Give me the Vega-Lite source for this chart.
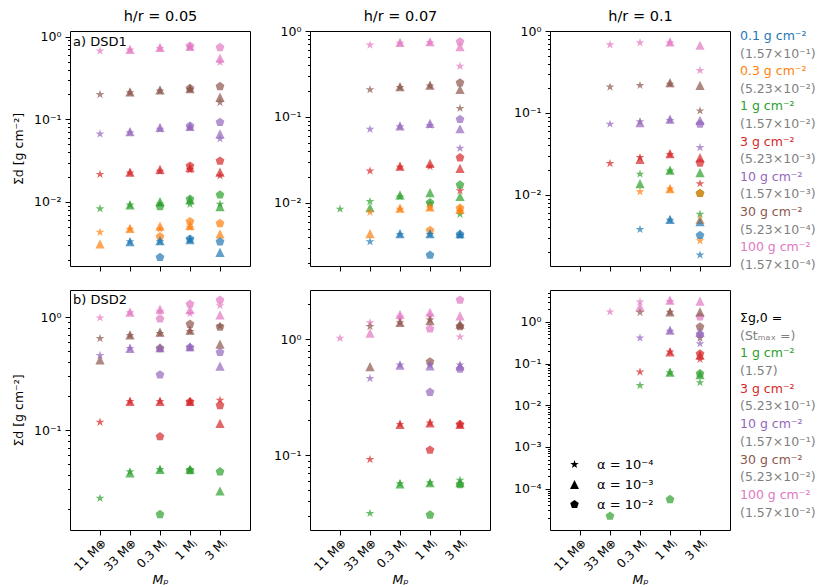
{
  "$schema": "https://vega.github.io/schema/vega-lite/v6.json",
  "padding": {"left": 11, "top": 7, "right": 0, "bottom": 0},
  "config": {
    "font": "DejaVu Sans",
    "view": {"stroke": "black", "strokeWidth": 1},
    "axis": {"grid": false, "domain": false, "tickColor": "black", "labelColor": "black", "titleColor": "black", "labelFontSize": 12.5, "titleFontSize": 12.5, "titleFontWeight": "normal", "labelFont": "DejaVu Sans", "titleFont": "DejaVu Sans"},
    "title": {"fontWeight": "normal", "font": "DejaVu Sans", "color": "black"},
    "legend": {"labelFont": "DejaVu Sans"}
  },
  "datasets": {
    "pts": [
      {"d":"DSD1","h":"0.05","m":"11Me","s":"100","a":"1e-4","v":0.67},
      {"d":"DSD1","h":"0.05","m":"33Me","s":"100","a":"1e-4","v":0.69},
      {"d":"DSD1","h":"0.05","m":"33Me","s":"100","a":"1e-3","v":0.70},
      {"d":"DSD1","h":"0.05","m":"0.3Mj","s":"100","a":"1e-4","v":0.72},
      {"d":"DSD1","h":"0.05","m":"0.3Mj","s":"100","a":"1e-3","v":0.74},
      {"d":"DSD1","h":"0.05","m":"1Mj","s":"100","a":"1e-2","v":0.77},
      {"d":"DSD1","h":"0.05","m":"1Mj","s":"100","a":"1e-3","v":0.76},
      {"d":"DSD1","h":"0.05","m":"1Mj","s":"100","a":"1e-4","v":0.75},
      {"d":"DSD1","h":"0.05","m":"3Mj","s":"100","a":"1e-2","v":0.74},
      {"d":"DSD1","h":"0.05","m":"3Mj","s":"100","a":"1e-3","v":0.55},
      {"d":"DSD1","h":"0.05","m":"3Mj","s":"100","a":"1e-4","v":0.49},
      {"d":"DSD1","h":"0.05","m":"11Me","s":"30","a":"1e-4","v":0.20},
      {"d":"DSD1","h":"0.05","m":"33Me","s":"30","a":"1e-4","v":0.21},
      {"d":"DSD1","h":"0.05","m":"33Me","s":"30","a":"1e-3","v":0.215},
      {"d":"DSD1","h":"0.05","m":"0.3Mj","s":"30","a":"1e-4","v":0.22},
      {"d":"DSD1","h":"0.05","m":"0.3Mj","s":"30","a":"1e-3","v":0.227},
      {"d":"DSD1","h":"0.05","m":"1Mj","s":"30","a":"1e-2","v":0.237},
      {"d":"DSD1","h":"0.05","m":"1Mj","s":"30","a":"1e-3","v":0.235},
      {"d":"DSD1","h":"0.05","m":"1Mj","s":"30","a":"1e-4","v":0.23},
      {"d":"DSD1","h":"0.05","m":"3Mj","s":"30","a":"1e-2","v":0.25},
      {"d":"DSD1","h":"0.05","m":"3Mj","s":"30","a":"1e-3","v":0.185},
      {"d":"DSD1","h":"0.05","m":"3Mj","s":"30","a":"1e-4","v":0.16},
      {"d":"DSD1","h":"0.05","m":"11Me","s":"10","a":"1e-4","v":0.0665},
      {"d":"DSD1","h":"0.05","m":"33Me","s":"10","a":"1e-4","v":0.069},
      {"d":"DSD1","h":"0.05","m":"33Me","s":"10","a":"1e-3","v":0.071},
      {"d":"DSD1","h":"0.05","m":"0.3Mj","s":"10","a":"1e-4","v":0.076},
      {"d":"DSD1","h":"0.05","m":"0.3Mj","s":"10","a":"1e-3","v":0.080},
      {"d":"DSD1","h":"0.05","m":"1Mj","s":"10","a":"1e-2","v":0.083},
      {"d":"DSD1","h":"0.05","m":"1Mj","s":"10","a":"1e-3","v":0.082},
      {"d":"DSD1","h":"0.05","m":"1Mj","s":"10","a":"1e-4","v":0.079},
      {"d":"DSD1","h":"0.05","m":"3Mj","s":"10","a":"1e-2","v":0.092},
      {"d":"DSD1","h":"0.05","m":"3Mj","s":"10","a":"1e-3","v":0.0665},
      {"d":"DSD1","h":"0.05","m":"3Mj","s":"10","a":"1e-4","v":0.058},
      {"d":"DSD1","h":"0.05","m":"11Me","s":"3","a":"1e-4","v":0.0216},
      {"d":"DSD1","h":"0.05","m":"33Me","s":"3","a":"1e-4","v":0.0225},
      {"d":"DSD1","h":"0.05","m":"33Me","s":"3","a":"1e-3","v":0.0229},
      {"d":"DSD1","h":"0.05","m":"0.3Mj","s":"3","a":"1e-4","v":0.0235},
      {"d":"DSD1","h":"0.05","m":"0.3Mj","s":"3","a":"1e-3","v":0.0248},
      {"d":"DSD1","h":"0.05","m":"1Mj","s":"3","a":"1e-2","v":0.0272},
      {"d":"DSD1","h":"0.05","m":"1Mj","s":"3","a":"1e-3","v":0.026},
      {"d":"DSD1","h":"0.05","m":"1Mj","s":"3","a":"1e-4","v":0.0245},
      {"d":"DSD1","h":"0.05","m":"3Mj","s":"3","a":"1e-2","v":0.0313},
      {"d":"DSD1","h":"0.05","m":"3Mj","s":"3","a":"1e-3","v":0.023},
      {"d":"DSD1","h":"0.05","m":"3Mj","s":"3","a":"1e-4","v":0.0207},
      {"d":"DSD1","h":"0.05","m":"11Me","s":"1","a":"1e-4","v":0.0083},
      {"d":"DSD1","h":"0.05","m":"33Me","s":"1","a":"1e-4","v":0.0092},
      {"d":"DSD1","h":"0.05","m":"33Me","s":"1","a":"1e-3","v":0.0092},
      {"d":"DSD1","h":"0.05","m":"0.3Mj","s":"1","a":"1e-4","v":0.0095},
      {"d":"DSD1","h":"0.05","m":"0.3Mj","s":"1","a":"1e-3","v":0.0101},
      {"d":"DSD1","h":"0.05","m":"0.3Mj","s":"1","a":"1e-2","v":0.0088},
      {"d":"DSD1","h":"0.05","m":"1Mj","s":"1","a":"1e-2","v":0.0108},
      {"d":"DSD1","h":"0.05","m":"1Mj","s":"1","a":"1e-3","v":0.0106},
      {"d":"DSD1","h":"0.05","m":"1Mj","s":"1","a":"1e-4","v":0.0094},
      {"d":"DSD1","h":"0.05","m":"3Mj","s":"1","a":"1e-2","v":0.0122},
      {"d":"DSD1","h":"0.05","m":"3Mj","s":"1","a":"1e-4","v":0.0094},
      {"d":"DSD1","h":"0.05","m":"3Mj","s":"1","a":"1e-3","v":0.0088},
      {"d":"DSD1","h":"0.05","m":"11Me","s":"0.3","a":"1e-4","v":0.0043},
      {"d":"DSD1","h":"0.05","m":"11Me","s":"0.3","a":"1e-3","v":0.0031},
      {"d":"DSD1","h":"0.05","m":"33Me","s":"0.3","a":"1e-4","v":0.0047},
      {"d":"DSD1","h":"0.05","m":"33Me","s":"0.3","a":"1e-3","v":0.0048},
      {"d":"DSD1","h":"0.05","m":"0.3Mj","s":"0.3","a":"1e-4","v":0.0047},
      {"d":"DSD1","h":"0.05","m":"0.3Mj","s":"0.3","a":"1e-3","v":0.0051},
      {"d":"DSD1","h":"0.05","m":"0.3Mj","s":"0.3","a":"1e-2","v":0.0038},
      {"d":"DSD1","h":"0.05","m":"1Mj","s":"0.3","a":"1e-2","v":0.0058},
      {"d":"DSD1","h":"0.05","m":"1Mj","s":"0.3","a":"1e-3","v":0.0052},
      {"d":"DSD1","h":"0.05","m":"1Mj","s":"0.3","a":"1e-4","v":0.0049},
      {"d":"DSD1","h":"0.05","m":"3Mj","s":"0.3","a":"1e-2","v":0.0055},
      {"d":"DSD1","h":"0.05","m":"3Mj","s":"0.3","a":"1e-3","v":0.0041},
      {"d":"DSD1","h":"0.05","m":"33Me","s":"0.1","a":"1e-4","v":0.0033},
      {"d":"DSD1","h":"0.05","m":"33Me","s":"0.1","a":"1e-3","v":0.0033},
      {"d":"DSD1","h":"0.05","m":"0.3Mj","s":"0.1","a":"1e-4","v":0.0033},
      {"d":"DSD1","h":"0.05","m":"0.3Mj","s":"0.1","a":"1e-3","v":0.0034},
      {"d":"DSD1","h":"0.05","m":"0.3Mj","s":"0.1","a":"1e-2","v":0.00214},
      {"d":"DSD1","h":"0.05","m":"1Mj","s":"0.1","a":"1e-2","v":0.00356},
      {"d":"DSD1","h":"0.05","m":"1Mj","s":"0.1","a":"1e-3","v":0.0035},
      {"d":"DSD1","h":"0.05","m":"1Mj","s":"0.1","a":"1e-4","v":0.0035},
      {"d":"DSD1","h":"0.05","m":"3Mj","s":"0.1","a":"1e-2","v":0.0033},
      {"d":"DSD1","h":"0.05","m":"3Mj","s":"0.1","a":"1e-3","v":0.00246},

      {"d":"DSD1","h":"0.07","m":"33Me","s":"100","a":"1e-4","v":0.687},
      {"d":"DSD1","h":"0.07","m":"0.3Mj","s":"100","a":"1e-4","v":0.72},
      {"d":"DSD1","h":"0.07","m":"0.3Mj","s":"100","a":"1e-3","v":0.738},
      {"d":"DSD1","h":"0.07","m":"1Mj","s":"100","a":"1e-4","v":0.73},
      {"d":"DSD1","h":"0.07","m":"1Mj","s":"100","a":"1e-3","v":0.75},
      {"d":"DSD1","h":"0.07","m":"3Mj","s":"100","a":"1e-2","v":0.75},
      {"d":"DSD1","h":"0.07","m":"3Mj","s":"100","a":"1e-3","v":0.66},
      {"d":"DSD1","h":"0.07","m":"3Mj","s":"100","a":"1e-4","v":0.39},
      {"d":"DSD1","h":"0.07","m":"33Me","s":"30","a":"1e-4","v":0.208},
      {"d":"DSD1","h":"0.07","m":"0.3Mj","s":"30","a":"1e-4","v":0.22},
      {"d":"DSD1","h":"0.07","m":"0.3Mj","s":"30","a":"1e-3","v":0.225},
      {"d":"DSD1","h":"0.07","m":"1Mj","s":"30","a":"1e-4","v":0.23},
      {"d":"DSD1","h":"0.07","m":"1Mj","s":"30","a":"1e-3","v":0.235},
      {"d":"DSD1","h":"0.07","m":"3Mj","s":"30","a":"1e-2","v":0.25},
      {"d":"DSD1","h":"0.07","m":"3Mj","s":"30","a":"1e-3","v":0.21},
      {"d":"DSD1","h":"0.07","m":"3Mj","s":"30","a":"1e-4","v":0.126},
      {"d":"DSD1","h":"0.07","m":"33Me","s":"10","a":"1e-4","v":0.072},
      {"d":"DSD1","h":"0.07","m":"0.3Mj","s":"10","a":"1e-4","v":0.077},
      {"d":"DSD1","h":"0.07","m":"0.3Mj","s":"10","a":"1e-3","v":0.0786},
      {"d":"DSD1","h":"0.07","m":"1Mj","s":"10","a":"1e-4","v":0.08},
      {"d":"DSD1","h":"0.07","m":"1Mj","s":"10","a":"1e-3","v":0.0844},
      {"d":"DSD1","h":"0.07","m":"3Mj","s":"10","a":"1e-2","v":0.094},
      {"d":"DSD1","h":"0.07","m":"3Mj","s":"10","a":"1e-3","v":0.073},
      {"d":"DSD1","h":"0.07","m":"3Mj","s":"10","a":"1e-4","v":0.0433},
      {"d":"DSD1","h":"0.07","m":"33Me","s":"3","a":"1e-4","v":0.0236},
      {"d":"DSD1","h":"0.07","m":"0.3Mj","s":"3","a":"1e-4","v":0.026},
      {"d":"DSD1","h":"0.07","m":"0.3Mj","s":"3","a":"1e-3","v":0.0269},
      {"d":"DSD1","h":"0.07","m":"1Mj","s":"3","a":"1e-4","v":0.0265},
      {"d":"DSD1","h":"0.07","m":"1Mj","s":"3","a":"1e-3","v":0.0289},
      {"d":"DSD1","h":"0.07","m":"3Mj","s":"3","a":"1e-2","v":0.0336},
      {"d":"DSD1","h":"0.07","m":"3Mj","s":"3","a":"1e-3","v":0.0253},
      {"d":"DSD1","h":"0.07","m":"3Mj","s":"3","a":"1e-4","v":0.0139},
      {"d":"DSD1","h":"0.07","m":"11Me","s":"1","a":"1e-4","v":0.0085},
      {"d":"DSD1","h":"0.07","m":"33Me","s":"1","a":"1e-4","v":0.0104},
      {"d":"DSD1","h":"0.07","m":"33Me","s":"1","a":"1e-3","v":0.0088},
      {"d":"DSD1","h":"0.07","m":"0.3Mj","s":"1","a":"1e-4","v":0.0118},
      {"d":"DSD1","h":"0.07","m":"0.3Mj","s":"1","a":"1e-3","v":0.0124},
      {"d":"DSD1","h":"0.07","m":"1Mj","s":"1","a":"1e-4","v":0.0098},
      {"d":"DSD1","h":"0.07","m":"1Mj","s":"1","a":"1e-3","v":0.0132},
      {"d":"DSD1","h":"0.07","m":"1Mj","s":"1","a":"1e-2","v":0.0101},
      {"d":"DSD1","h":"0.07","m":"3Mj","s":"1","a":"1e-2","v":0.0162},
      {"d":"DSD1","h":"0.07","m":"3Mj","s":"1","a":"1e-3","v":0.0119},
      {"d":"DSD1","h":"0.07","m":"3Mj","s":"1","a":"1e-4","v":0.0074},
      {"d":"DSD1","h":"0.07","m":"33Me","s":"0.3","a":"1e-4","v":0.0078},
      {"d":"DSD1","h":"0.07","m":"33Me","s":"0.3","a":"1e-3","v":0.0044},
      {"d":"DSD1","h":"0.07","m":"0.3Mj","s":"0.3","a":"1e-4","v":0.0085},
      {"d":"DSD1","h":"0.07","m":"0.3Mj","s":"0.3","a":"1e-3","v":0.0087},
      {"d":"DSD1","h":"0.07","m":"1Mj","s":"0.3","a":"1e-4","v":0.0088},
      {"d":"DSD1","h":"0.07","m":"1Mj","s":"0.3","a":"1e-3","v":0.009},
      {"d":"DSD1","h":"0.07","m":"1Mj","s":"0.3","a":"1e-2","v":0.0048},
      {"d":"DSD1","h":"0.07","m":"3Mj","s":"0.3","a":"1e-2","v":0.0087},
      {"d":"DSD1","h":"0.07","m":"3Mj","s":"0.3","a":"1e-3","v":0.0085},
      {"d":"DSD1","h":"0.07","m":"3Mj","s":"0.3","a":"1e-4","v":0.008},
      {"d":"DSD1","h":"0.07","m":"33Me","s":"0.1","a":"1e-4","v":0.00355},
      {"d":"DSD1","h":"0.07","m":"0.3Mj","s":"0.1","a":"1e-4","v":0.0043},
      {"d":"DSD1","h":"0.07","m":"0.3Mj","s":"0.1","a":"1e-3","v":0.0044},
      {"d":"DSD1","h":"0.07","m":"1Mj","s":"0.1","a":"1e-4","v":0.0043},
      {"d":"DSD1","h":"0.07","m":"1Mj","s":"0.1","a":"1e-3","v":0.0044},
      {"d":"DSD1","h":"0.07","m":"1Mj","s":"0.1","a":"1e-2","v":0.00248},
      {"d":"DSD1","h":"0.07","m":"3Mj","s":"0.1","a":"1e-2","v":0.0043},
      {"d":"DSD1","h":"0.07","m":"3Mj","s":"0.1","a":"1e-3","v":0.0044},
      {"d":"DSD1","h":"0.07","m":"3Mj","s":"0.1","a":"1e-4","v":0.0042},

      {"d":"DSD1","h":"0.1","m":"33Me","s":"100","a":"1e-4","v":0.68},
      {"d":"DSD1","h":"0.1","m":"0.3Mj","s":"100","a":"1e-4","v":0.72},
      {"d":"DSD1","h":"0.1","m":"1Mj","s":"100","a":"1e-4","v":0.72},
      {"d":"DSD1","h":"0.1","m":"1Mj","s":"100","a":"1e-3","v":0.735},
      {"d":"DSD1","h":"0.1","m":"3Mj","s":"100","a":"1e-3","v":0.67},
      {"d":"DSD1","h":"0.1","m":"3Mj","s":"100","a":"1e-4","v":0.33},
      {"d":"DSD1","h":"0.1","m":"33Me","s":"30","a":"1e-4","v":0.207},
      {"d":"DSD1","h":"0.1","m":"0.3Mj","s":"30","a":"1e-4","v":0.217},
      {"d":"DSD1","h":"0.1","m":"1Mj","s":"30","a":"1e-4","v":0.225},
      {"d":"DSD1","h":"0.1","m":"1Mj","s":"30","a":"1e-3","v":0.234},
      {"d":"DSD1","h":"0.1","m":"3Mj","s":"30","a":"1e-3","v":0.217},
      {"d":"DSD1","h":"0.1","m":"3Mj","s":"30","a":"1e-4","v":0.106},
      {"d":"DSD1","h":"0.1","m":"33Me","s":"10","a":"1e-4","v":0.073},
      {"d":"DSD1","h":"0.1","m":"0.3Mj","s":"10","a":"1e-4","v":0.078},
      {"d":"DSD1","h":"0.1","m":"0.3Mj","s":"10","a":"1e-3","v":0.076},
      {"d":"DSD1","h":"0.1","m":"1Mj","s":"10","a":"1e-4","v":0.081},
      {"d":"DSD1","h":"0.1","m":"1Mj","s":"10","a":"1e-3","v":0.084},
      {"d":"DSD1","h":"0.1","m":"3Mj","s":"10","a":"1e-3","v":0.081},
      {"d":"DSD1","h":"0.1","m":"3Mj","s":"10","a":"1e-2","v":0.073},
      {"d":"DSD1","h":"0.1","m":"3Mj","s":"10","a":"1e-4","v":0.0378},
      {"d":"DSD1","h":"0.1","m":"33Me","s":"3","a":"1e-4","v":0.0241},
      {"d":"DSD1","h":"0.1","m":"0.3Mj","s":"3","a":"1e-4","v":0.0285},
      {"d":"DSD1","h":"0.1","m":"0.3Mj","s":"3","a":"1e-3","v":0.027},
      {"d":"DSD1","h":"0.1","m":"1Mj","s":"3","a":"1e-4","v":0.031},
      {"d":"DSD1","h":"0.1","m":"1Mj","s":"3","a":"1e-3","v":0.0319},
      {"d":"DSD1","h":"0.1","m":"3Mj","s":"3","a":"1e-3","v":0.0285},
      {"d":"DSD1","h":"0.1","m":"3Mj","s":"3","a":"1e-2","v":0.0245},
      {"d":"DSD1","h":"0.1","m":"3Mj","s":"3","a":"1e-4","v":0.0137},
      {"d":"DSD1","h":"0.1","m":"0.3Mj","s":"1","a":"1e-4","v":0.0179},
      {"d":"DSD1","h":"0.1","m":"0.3Mj","s":"1","a":"1e-3","v":0.0137},
      {"d":"DSD1","h":"0.1","m":"1Mj","s":"1","a":"1e-4","v":0.0195},
      {"d":"DSD1","h":"0.1","m":"1Mj","s":"1","a":"1e-3","v":0.020},
      {"d":"DSD1","h":"0.1","m":"3Mj","s":"1","a":"1e-3","v":0.0187},
      {"d":"DSD1","h":"0.1","m":"3Mj","s":"1","a":"1e-2","v":0.0104},
      {"d":"DSD1","h":"0.1","m":"3Mj","s":"1","a":"1e-4","v":0.0058},
      {"d":"DSD1","h":"0.1","m":"0.3Mj","s":"0.3","a":"1e-4","v":0.0109},
      {"d":"DSD1","h":"0.1","m":"1Mj","s":"0.3","a":"1e-4","v":0.0118},
      {"d":"DSD1","h":"0.1","m":"1Mj","s":"0.3","a":"1e-3","v":0.0119},
      {"d":"DSD1","h":"0.1","m":"3Mj","s":"0.3","a":"1e-2","v":0.0104},
      {"d":"DSD1","h":"0.1","m":"3Mj","s":"0.3","a":"1e-3","v":0.005},
      {"d":"DSD1","h":"0.1","m":"3Mj","s":"0.3","a":"1e-4","v":0.00275},
      {"d":"DSD1","h":"0.1","m":"0.3Mj","s":"0.1","a":"1e-4","v":0.00378},
      {"d":"DSD1","h":"0.1","m":"1Mj","s":"0.1","a":"1e-4","v":0.0049},
      {"d":"DSD1","h":"0.1","m":"1Mj","s":"0.1","a":"1e-3","v":0.005},
      {"d":"DSD1","h":"0.1","m":"3Mj","s":"0.1","a":"1e-3","v":0.0047},
      {"d":"DSD1","h":"0.1","m":"3Mj","s":"0.1","a":"1e-2","v":0.0032},
      {"d":"DSD1","h":"0.1","m":"3Mj","s":"0.1","a":"1e-4","v":0.00184},

      {"d":"DSD2","h":"0.05","m":"11Me","s":"100","a":"1e-4","v":0.99},
      {"d":"DSD2","h":"0.05","m":"33Me","s":"100","a":"1e-4","v":1.10},
      {"d":"DSD2","h":"0.05","m":"33Me","s":"100","a":"1e-3","v":1.11},
      {"d":"DSD2","h":"0.05","m":"0.3Mj","s":"100","a":"1e-4","v":1.12},
      {"d":"DSD2","h":"0.05","m":"0.3Mj","s":"100","a":"1e-3","v":1.18},
      {"d":"DSD2","h":"0.05","m":"0.3Mj","s":"100","a":"1e-2","v":0.97},
      {"d":"DSD2","h":"0.05","m":"1Mj","s":"100","a":"1e-2","v":1.31},
      {"d":"DSD2","h":"0.05","m":"1Mj","s":"100","a":"1e-3","v":1.17},
      {"d":"DSD2","h":"0.05","m":"1Mj","s":"100","a":"1e-4","v":1.08},
      {"d":"DSD2","h":"0.05","m":"3Mj","s":"100","a":"1e-2","v":1.42},
      {"d":"DSD2","h":"0.05","m":"3Mj","s":"100","a":"1e-4","v":1.27},
      {"d":"DSD2","h":"0.05","m":"3Mj","s":"100","a":"1e-3","v":1.05},
      {"d":"DSD2","h":"0.05","m":"11Me","s":"30","a":"1e-4","v":0.65},
      {"d":"DSD2","h":"0.05","m":"11Me","s":"30","a":"1e-3","v":0.42},
      {"d":"DSD2","h":"0.05","m":"33Me","s":"30","a":"1e-4","v":0.69},
      {"d":"DSD2","h":"0.05","m":"33Me","s":"30","a":"1e-3","v":0.70},
      {"d":"DSD2","h":"0.05","m":"0.3Mj","s":"30","a":"1e-4","v":0.72},
      {"d":"DSD2","h":"0.05","m":"0.3Mj","s":"30","a":"1e-3","v":0.74},
      {"d":"DSD2","h":"0.05","m":"0.3Mj","s":"30","a":"1e-2","v":0.53},
      {"d":"DSD2","h":"0.05","m":"1Mj","s":"30","a":"1e-2","v":0.87},
      {"d":"DSD2","h":"0.05","m":"1Mj","s":"30","a":"1e-3","v":0.77},
      {"d":"DSD2","h":"0.05","m":"1Mj","s":"30","a":"1e-4","v":0.75},
      {"d":"DSD2","h":"0.05","m":"3Mj","s":"30","a":"1e-2","v":0.82},
      {"d":"DSD2","h":"0.05","m":"3Mj","s":"30","a":"1e-4","v":0.84},
      {"d":"DSD2","h":"0.05","m":"3Mj","s":"30","a":"1e-3","v":0.58},
      {"d":"DSD2","h":"0.05","m":"11Me","s":"10","a":"1e-4","v":0.46},
      {"d":"DSD2","h":"0.05","m":"33Me","s":"10","a":"1e-4","v":0.53},
      {"d":"DSD2","h":"0.05","m":"33Me","s":"10","a":"1e-3","v":0.53},
      {"d":"DSD2","h":"0.05","m":"0.3Mj","s":"10","a":"1e-4","v":0.53},
      {"d":"DSD2","h":"0.05","m":"0.3Mj","s":"10","a":"1e-3","v":0.54},
      {"d":"DSD2","h":"0.05","m":"0.3Mj","s":"10","a":"1e-2","v":0.31},
      {"d":"DSD2","h":"0.05","m":"1Mj","s":"10","a":"1e-2","v":0.54},
      {"d":"DSD2","h":"0.05","m":"1Mj","s":"10","a":"1e-3","v":0.55},
      {"d":"DSD2","h":"0.05","m":"1Mj","s":"10","a":"1e-4","v":0.54},
      {"d":"DSD2","h":"0.05","m":"3Mj","s":"10","a":"1e-2","v":0.49},
      {"d":"DSD2","h":"0.05","m":"3Mj","s":"10","a":"1e-3","v":0.37},
      {"d":"DSD2","h":"0.05","m":"11Me","s":"3","a":"1e-4","v":0.118},
      {"d":"DSD2","h":"0.05","m":"33Me","s":"3","a":"1e-4","v":0.18},
      {"d":"DSD2","h":"0.05","m":"33Me","s":"3","a":"1e-3","v":0.18},
      {"d":"DSD2","h":"0.05","m":"0.3Mj","s":"3","a":"1e-4","v":0.18},
      {"d":"DSD2","h":"0.05","m":"0.3Mj","s":"3","a":"1e-3","v":0.18},
      {"d":"DSD2","h":"0.05","m":"0.3Mj","s":"3","a":"1e-2","v":0.088},
      {"d":"DSD2","h":"0.05","m":"1Mj","s":"3","a":"1e-4","v":0.18},
      {"d":"DSD2","h":"0.05","m":"1Mj","s":"3","a":"1e-3","v":0.18},
      {"d":"DSD2","h":"0.05","m":"1Mj","s":"3","a":"1e-2","v":0.178},
      {"d":"DSD2","h":"0.05","m":"3Mj","s":"3","a":"1e-4","v":0.185},
      {"d":"DSD2","h":"0.05","m":"3Mj","s":"3","a":"1e-2","v":0.166},
      {"d":"DSD2","h":"0.05","m":"3Mj","s":"3","a":"1e-3","v":0.115},
      {"d":"DSD2","h":"0.05","m":"11Me","s":"1","a":"1e-4","v":0.025},
      {"d":"DSD2","h":"0.05","m":"33Me","s":"1","a":"1e-4","v":0.043},
      {"d":"DSD2","h":"0.05","m":"33Me","s":"1","a":"1e-3","v":0.042},
      {"d":"DSD2","h":"0.05","m":"0.3Mj","s":"1","a":"1e-4","v":0.045},
      {"d":"DSD2","h":"0.05","m":"0.3Mj","s":"1","a":"1e-3","v":0.045},
      {"d":"DSD2","h":"0.05","m":"0.3Mj","s":"1","a":"1e-2","v":0.018},
      {"d":"DSD2","h":"0.05","m":"1Mj","s":"1","a":"1e-4","v":0.045},
      {"d":"DSD2","h":"0.05","m":"1Mj","s":"1","a":"1e-3","v":0.045},
      {"d":"DSD2","h":"0.05","m":"1Mj","s":"1","a":"1e-2","v":0.044},
      {"d":"DSD2","h":"0.05","m":"3Mj","s":"1","a":"1e-2","v":0.043},
      {"d":"DSD2","h":"0.05","m":"3Mj","s":"1","a":"1e-3","v":0.029},

      {"d":"DSD2","h":"0.07","m":"11Me","s":"100","a":"1e-4","v":1.02},
      {"d":"DSD2","h":"0.07","m":"33Me","s":"100","a":"1e-4","v":1.39},
      {"d":"DSD2","h":"0.07","m":"33Me","s":"100","a":"1e-3","v":1.13},
      {"d":"DSD2","h":"0.07","m":"0.3Mj","s":"100","a":"1e-4","v":1.55},
      {"d":"DSD2","h":"0.07","m":"0.3Mj","s":"100","a":"1e-3","v":1.64},
      {"d":"DSD2","h":"0.07","m":"1Mj","s":"100","a":"1e-4","v":1.6},
      {"d":"DSD2","h":"0.07","m":"1Mj","s":"100","a":"1e-3","v":1.71},
      {"d":"DSD2","h":"0.07","m":"1Mj","s":"100","a":"1e-2","v":1.23},
      {"d":"DSD2","h":"0.07","m":"3Mj","s":"100","a":"1e-2","v":2.18},
      {"d":"DSD2","h":"0.07","m":"3Mj","s":"100","a":"1e-3","v":1.59},
      {"d":"DSD2","h":"0.07","m":"3Mj","s":"100","a":"1e-4","v":1.05},
      {"d":"DSD2","h":"0.07","m":"33Me","s":"30","a":"1e-4","v":1.29},
      {"d":"DSD2","h":"0.07","m":"33Me","s":"30","a":"1e-3","v":0.58},
      {"d":"DSD2","h":"0.07","m":"0.3Mj","s":"30","a":"1e-4","v":1.39},
      {"d":"DSD2","h":"0.07","m":"0.3Mj","s":"30","a":"1e-3","v":1.4},
      {"d":"DSD2","h":"0.07","m":"1Mj","s":"30","a":"1e-4","v":1.47},
      {"d":"DSD2","h":"0.07","m":"1Mj","s":"30","a":"1e-3","v":1.45},
      {"d":"DSD2","h":"0.07","m":"1Mj","s":"30","a":"1e-2","v":0.64},
      {"d":"DSD2","h":"0.07","m":"3Mj","s":"30","a":"1e-2","v":1.29},
      {"d":"DSD2","h":"0.07","m":"3Mj","s":"30","a":"1e-3","v":1.35},
      {"d":"DSD2","h":"0.07","m":"3Mj","s":"30","a":"1e-4","v":1.3},
      {"d":"DSD2","h":"0.07","m":"33Me","s":"10","a":"1e-4","v":0.46},
      {"d":"DSD2","h":"0.07","m":"0.3Mj","s":"10","a":"1e-4","v":0.6},
      {"d":"DSD2","h":"0.07","m":"0.3Mj","s":"10","a":"1e-3","v":0.6},
      {"d":"DSD2","h":"0.07","m":"1Mj","s":"10","a":"1e-4","v":0.6},
      {"d":"DSD2","h":"0.07","m":"1Mj","s":"10","a":"1e-3","v":0.59},
      {"d":"DSD2","h":"0.07","m":"1Mj","s":"10","a":"1e-2","v":0.35},
      {"d":"DSD2","h":"0.07","m":"3Mj","s":"10","a":"1e-4","v":0.6},
      {"d":"DSD2","h":"0.07","m":"3Mj","s":"10","a":"1e-3","v":0.59},
      {"d":"DSD2","h":"0.07","m":"3Mj","s":"10","a":"1e-2","v":0.555},
      {"d":"DSD2","h":"0.07","m":"33Me","s":"3","a":"1e-4","v":0.092},
      {"d":"DSD2","h":"0.07","m":"0.3Mj","s":"3","a":"1e-4","v":0.185},
      {"d":"DSD2","h":"0.07","m":"0.3Mj","s":"3","a":"1e-3","v":0.185},
      {"d":"DSD2","h":"0.07","m":"1Mj","s":"3","a":"1e-4","v":0.19},
      {"d":"DSD2","h":"0.07","m":"1Mj","s":"3","a":"1e-3","v":0.19},
      {"d":"DSD2","h":"0.07","m":"1Mj","s":"3","a":"1e-2","v":0.111},
      {"d":"DSD2","h":"0.07","m":"3Mj","s":"3","a":"1e-2","v":0.185},
      {"d":"DSD2","h":"0.07","m":"3Mj","s":"3","a":"1e-3","v":0.185},
      {"d":"DSD2","h":"0.07","m":"3Mj","s":"3","a":"1e-4","v":0.185},
      {"d":"DSD2","h":"0.07","m":"33Me","s":"1","a":"1e-4","v":0.0316},
      {"d":"DSD2","h":"0.07","m":"0.3Mj","s":"1","a":"1e-4","v":0.057},
      {"d":"DSD2","h":"0.07","m":"0.3Mj","s":"1","a":"1e-3","v":0.0566},
      {"d":"DSD2","h":"0.07","m":"1Mj","s":"1","a":"1e-4","v":0.058},
      {"d":"DSD2","h":"0.07","m":"1Mj","s":"1","a":"1e-3","v":0.058},
      {"d":"DSD2","h":"0.07","m":"1Mj","s":"1","a":"1e-2","v":0.0306},
      {"d":"DSD2","h":"0.07","m":"3Mj","s":"1","a":"1e-4","v":0.061},
      {"d":"DSD2","h":"0.07","m":"3Mj","s":"1","a":"1e-2","v":0.056},
      {"d":"DSD2","h":"0.07","m":"3Mj","s":"1","a":"1e-3","v":0.058},

      {"d":"DSD2","h":"0.1","m":"33Me","s":"100","a":"1e-4","v":1.74},
      {"d":"DSD2","h":"0.1","m":"0.3Mj","s":"100","a":"1e-4","v":3.0},
      {"d":"DSD2","h":"0.1","m":"0.3Mj","s":"100","a":"1e-3","v":2.3},
      {"d":"DSD2","h":"0.1","m":"1Mj","s":"100","a":"1e-4","v":3.1},
      {"d":"DSD2","h":"0.1","m":"1Mj","s":"100","a":"1e-3","v":3.3},
      {"d":"DSD2","h":"0.1","m":"3Mj","s":"100","a":"1e-3","v":3.15},
      {"d":"DSD2","h":"0.1","m":"3Mj","s":"100","a":"1e-2","v":1.32},
      {"d":"DSD2","h":"0.1","m":"0.3Mj","s":"30","a":"1e-4","v":1.68},
      {"d":"DSD2","h":"0.1","m":"1Mj","s":"30","a":"1e-4","v":1.7},
      {"d":"DSD2","h":"0.1","m":"1Mj","s":"30","a":"1e-3","v":1.74},
      {"d":"DSD2","h":"0.1","m":"3Mj","s":"30","a":"1e-3","v":1.74},
      {"d":"DSD2","h":"0.1","m":"3Mj","s":"30","a":"1e-2","v":0.76},
      {"d":"DSD2","h":"0.1","m":"3Mj","s":"30","a":"1e-4","v":0.41},
      {"d":"DSD2","h":"0.1","m":"0.3Mj","s":"10","a":"1e-4","v":0.41},
      {"d":"DSD2","h":"0.1","m":"1Mj","s":"10","a":"1e-4","v":0.6},
      {"d":"DSD2","h":"0.1","m":"1Mj","s":"10","a":"1e-3","v":0.63},
      {"d":"DSD2","h":"0.1","m":"3Mj","s":"10","a":"1e-3","v":0.57},
      {"d":"DSD2","h":"0.1","m":"3Mj","s":"10","a":"1e-2","v":0.50},
      {"d":"DSD2","h":"0.1","m":"3Mj","s":"10","a":"1e-4","v":0.30},
      {"d":"DSD2","h":"0.1","m":"0.3Mj","s":"3","a":"1e-4","v":0.063},
      {"d":"DSD2","h":"0.1","m":"1Mj","s":"3","a":"1e-4","v":0.19},
      {"d":"DSD2","h":"0.1","m":"1Mj","s":"3","a":"1e-3","v":0.19},
      {"d":"DSD2","h":"0.1","m":"3Mj","s":"3","a":"1e-2","v":0.17},
      {"d":"DSD2","h":"0.1","m":"3Mj","s":"3","a":"1e-3","v":0.16},
      {"d":"DSD2","h":"0.1","m":"3Mj","s":"3","a":"1e-4","v":0.126},
      {"d":"DSD2","h":"0.1","m":"33Me","s":"1","a":"1e-2","v":0.000022},
      {"d":"DSD2","h":"0.1","m":"0.3Mj","s":"1","a":"1e-4","v":0.0298},
      {"d":"DSD2","h":"0.1","m":"1Mj","s":"1","a":"1e-4","v":0.06},
      {"d":"DSD2","h":"0.1","m":"1Mj","s":"1","a":"1e-3","v":0.062},
      {"d":"DSD2","h":"0.1","m":"1Mj","s":"1","a":"1e-2","v":0.000055},
      {"d":"DSD2","h":"0.1","m":"3Mj","s":"1","a":"1e-2","v":0.057},
      {"d":"DSD2","h":"0.1","m":"3Mj","s":"1","a":"1e-3","v":0.054},
      {"d":"DSD2","h":"0.1","m":"3Mj","s":"1","a":"1e-4","v":0.035}
    ],
    "leg1": [
      {"i":0,"k":"main","s":"0.1","t":"0.1 g cm⁻²"},
      {"i":1,"k":"sub","s":"","t":"(1.57×10⁻¹)"},
      {"i":2,"k":"main","s":"0.3","t":"0.3 g cm⁻²"},
      {"i":3,"k":"sub","s":"","t":"(5.23×10⁻²)"},
      {"i":4,"k":"main","s":"1","t":"1 g cm⁻²"},
      {"i":5,"k":"sub","s":"","t":"(1.57×10⁻²)"},
      {"i":6,"k":"main","s":"3","t":"3 g cm⁻²"},
      {"i":7,"k":"sub","s":"","t":"(5.23×10⁻³)"},
      {"i":8,"k":"main","s":"10","t":"10 g cm⁻²"},
      {"i":9,"k":"sub","s":"","t":"(1.57×10⁻³)"},
      {"i":10,"k":"main","s":"30","t":"30 g cm⁻²"},
      {"i":11,"k":"sub","s":"","t":"(5.23×10⁻⁴)"},
      {"i":12,"k":"main","s":"100","t":"100 g cm⁻²"},
      {"i":13,"k":"sub","s":"","t":"(1.57×10⁻⁴)"}
    ],
    "leg2": [
      {"i":0,"k":"head","s":"","t":"Σg,0 ="},
      {"i":1,"k":"sub","s":"","t":"(Stₘₐₓ =)"},
      {"i":2,"k":"main","s":"1","t":"1 g cm⁻²"},
      {"i":3,"k":"sub","s":"","t":"(1.57)"},
      {"i":4,"k":"main","s":"3","t":"3 g cm⁻²"},
      {"i":5,"k":"sub","s":"","t":"(5.23×10⁻¹)"},
      {"i":6,"k":"main","s":"10","t":"10 g cm⁻²"},
      {"i":7,"k":"sub","s":"","t":"(1.57×10⁻¹)"},
      {"i":8,"k":"main","s":"30","t":"30 g cm⁻²"},
      {"i":9,"k":"sub","s":"","t":"(5.23×10⁻²)"},
      {"i":10,"k":"main","s":"100","t":"100 g cm⁻²"},
      {"i":11,"k":"sub","s":"","t":"(1.57×10⁻²)"}
    ]
  },
  "data": {"name": "pts"},
  "columns": 4,
  "spacing": {"row": 24, "column": 60},
  "bounds": "flush",
  "align": "each",
  "resolve": {"scale": {"color": "independent", "shape": "independent"}, "legend": {"color": "independent", "shape": "independent"}},
  "concat": [
    {
      "width": 180, "height": 235,
      "title": {"text": "a) DSD1", "anchor": "start", "frame": "group", "offset": -41, "dx": 3, "fontSize": 13},
      "transform": [{"filter": "datum.d == 'DSD1' && datum.h == '0.05'"}],
      "resolve": {"axis": {"x": "independent"}},
      "layer": [
        {
          "mark": {"type": "point", "filled": true, "opacity": 0.7, "size": 85},
          "encoding": {
            "x": {"field": "m", "type": "nominal", "sort": null, "scale": {"type": "point", "domain": ["11Me","33Me","0.3Mj","1Mj","3Mj"], "padding": 1}, "axis": {"labels": false, "title": null, "tickSize": 5}},
            "y": {"field": "v", "type": "quantitative", "scale": {"type": "log", "domain": [0.00168, 1.17], "nice": false}, "axis": {"title": "Σd [g cm⁻²]", "titlePadding": 8, "labelOverlap": false, "labelPadding": 4, "values": [0.002,0.003,0.004,0.005,0.006,0.007,0.008,0.009,0.01,0.02,0.03,0.04,0.05,0.06,0.07,0.08,0.09,0.1,0.2,0.3,0.4,0.5,0.6,0.7,0.8,0.9,1], "labelExpr": "abs(log(datum.value)/LN10-round(log(datum.value)/LN10))<0.001 ? '10'+replace(replace(replace(replace(replace(replace(replace(''+round(log(datum.value)/LN10),'-','⁻'),'0','⁰'),'1','¹'),'2','²'),'3','³'),'4','⁴'),'5','⁵') : ''", "tickSize": {"condition": {"test": "abs(log(datum.value)/LN10-round(log(datum.value)/LN10))<0.001", "value": 5}, "value": 2.5}}},
            "color": {"field": "s", "type": "nominal", "scale": {"domain": ["0.1","0.3","1","3","10","30","100"], "range": ["#1f77b4","#ff7f0e","#2ca02c","#d62728","#9467bd","#8c564b","#e377c2"]}, "legend": null},
            "shape": {"field": "a", "type": "nominal", "scale": {"domain": ["1e-4","1e-3","1e-2"], "range": ["M0,-1L0.2245,-0.309L0.951,-0.309L0.3633,0.118L0.588,0.809L0,0.382L-0.588,0.809L-0.3633,0.118L-0.951,-0.309L-0.2245,-0.309Z", "M0,-1L1,1L-1,1Z", "M0,-1L0.951,-0.309L0.588,0.809L-0.588,0.809L-0.951,-0.309Z"]}, "legend": null}
          }
        },
        {
          "transform": [{"filter": "false"}],
          "mark": {"type": "point"},
          "encoding": {
            "x": {"field": "m", "type": "nominal", "sort": null, "scale": {"type": "point", "domain": ["11Me","33Me","0.3Mj","1Mj","3Mj"], "padding": 1}, "axis": {"orient": "top", "title": "h/r = 0.05", "titleFontSize": 14.5, "titlePadding": 8, "ticks": false, "labels": false, "domain": false}}
          }
        }
      ]
    },
    {
      "width": 180, "height": 235,
      "transform": [{"filter": "datum.d == 'DSD1' && datum.h == '0.07'"}],
      "resolve": {"axis": {"x": "independent"}},
      "layer": [
        {
          "mark": {"type": "point", "filled": true, "opacity": 0.7, "size": 85},
          "encoding": {
            "x": {"field": "m", "type": "nominal", "sort": null, "scale": {"type": "point", "domain": ["11Me","33Me","0.3Mj","1Mj","3Mj"], "padding": 1}, "axis": {"labels": false, "title": null, "tickSize": 5}},
            "y": {"field": "v", "type": "quantitative", "scale": {"type": "log", "domain": [0.00185, 1.0], "nice": false}, "axis": {"title": null, "labelOverlap": false, "labelPadding": 4, "values": [0.002,0.003,0.004,0.005,0.006,0.007,0.008,0.009,0.01,0.02,0.03,0.04,0.05,0.06,0.07,0.08,0.09,0.1,0.2,0.3,0.4,0.5,0.6,0.7,0.8,0.9,1], "labelExpr": "abs(log(datum.value)/LN10-round(log(datum.value)/LN10))<0.001 ? '10'+replace(replace(replace(replace(replace(replace(replace(''+round(log(datum.value)/LN10),'-','⁻'),'0','⁰'),'1','¹'),'2','²'),'3','³'),'4','⁴'),'5','⁵') : ''", "tickSize": {"condition": {"test": "abs(log(datum.value)/LN10-round(log(datum.value)/LN10))<0.001", "value": 5}, "value": 2.5}}},
            "color": {"field": "s", "type": "nominal", "scale": {"domain": ["0.1","0.3","1","3","10","30","100"], "range": ["#1f77b4","#ff7f0e","#2ca02c","#d62728","#9467bd","#8c564b","#e377c2"]}, "legend": null},
            "shape": {"field": "a", "type": "nominal", "scale": {"domain": ["1e-4","1e-3","1e-2"], "range": ["M0,-1L0.2245,-0.309L0.951,-0.309L0.3633,0.118L0.588,0.809L0,0.382L-0.588,0.809L-0.3633,0.118L-0.951,-0.309L-0.2245,-0.309Z", "M0,-1L1,1L-1,1Z", "M0,-1L0.951,-0.309L0.588,0.809L-0.588,0.809L-0.951,-0.309Z"]}, "legend": null}
          }
        },
        {
          "transform": [{"filter": "false"}],
          "mark": {"type": "point"},
          "encoding": {
            "x": {"field": "m", "type": "nominal", "sort": null, "scale": {"type": "point", "domain": ["11Me","33Me","0.3Mj","1Mj","3Mj"], "padding": 1}, "axis": {"orient": "top", "title": "h/r = 0.07", "titleFontSize": 14.5, "titlePadding": 8, "ticks": false, "labels": false, "domain": false}}
          }
        }
      ]
    },
    {
      "width": 180, "height": 235,
      "transform": [{"filter": "datum.d == 'DSD1' && datum.h == '0.1'"}],
      "resolve": {"axis": {"x": "independent"}},
      "layer": [
        {
          "mark": {"type": "point", "filled": true, "opacity": 0.7, "size": 85},
          "encoding": {
            "x": {"field": "m", "type": "nominal", "sort": null, "scale": {"type": "point", "domain": ["11Me","33Me","0.3Mj","1Mj","3Mj"], "padding": 1}, "axis": {"labels": false, "title": null, "tickSize": 5}},
            "y": {"field": "v", "type": "quantitative", "scale": {"type": "log", "domain": [0.00135, 1.0], "nice": false}, "axis": {"title": null, "labelOverlap": false, "labelPadding": 4, "values": [0.002,0.003,0.004,0.005,0.006,0.007,0.008,0.009,0.01,0.02,0.03,0.04,0.05,0.06,0.07,0.08,0.09,0.1,0.2,0.3,0.4,0.5,0.6,0.7,0.8,0.9,1], "labelExpr": "abs(log(datum.value)/LN10-round(log(datum.value)/LN10))<0.001 ? '10'+replace(replace(replace(replace(replace(replace(replace(''+round(log(datum.value)/LN10),'-','⁻'),'0','⁰'),'1','¹'),'2','²'),'3','³'),'4','⁴'),'5','⁵') : ''", "tickSize": {"condition": {"test": "abs(log(datum.value)/LN10-round(log(datum.value)/LN10))<0.001", "value": 5}, "value": 2.5}}},
            "color": {"field": "s", "type": "nominal", "scale": {"domain": ["0.1","0.3","1","3","10","30","100"], "range": ["#1f77b4","#ff7f0e","#2ca02c","#d62728","#9467bd","#8c564b","#e377c2"]}, "legend": null},
            "shape": {"field": "a", "type": "nominal", "scale": {"domain": ["1e-4","1e-3","1e-2"], "range": ["M0,-1L0.2245,-0.309L0.951,-0.309L0.3633,0.118L0.588,0.809L0,0.382L-0.588,0.809L-0.3633,0.118L-0.951,-0.309L-0.2245,-0.309Z", "M0,-1L1,1L-1,1Z", "M0,-1L0.951,-0.309L0.588,0.809L-0.588,0.809L-0.951,-0.309Z"]}, "legend": null}
          }
        },
        {
          "transform": [{"filter": "false"}],
          "mark": {"type": "point"},
          "encoding": {
            "x": {"field": "m", "type": "nominal", "sort": null, "scale": {"type": "point", "domain": ["11Me","33Me","0.3Mj","1Mj","3Mj"], "padding": 1}, "axis": {"orient": "top", "title": "h/r = 0.1", "titleFontSize": 14.5, "titlePadding": 8, "ticks": false, "labels": false, "domain": false}}
          }
        }
      ]
    },
    {
      "width": 80, "height": 235,
      "data": {"name": "leg1"},
      "view": {"stroke": null},
      "layer": [
        {
          "transform": [{"filter": "datum.k == 'main'"}],
          "mark": {"type": "text", "align": "left", "baseline": "middle", "fontSize": 12.5},
          "encoding": {
            "x": {"datum": 0, "type": "quantitative", "scale": {"domain": [0.625, 1.625], "zero": false, "nice": false}, "axis": null},
            "y": {"field": "i", "type": "quantitative", "scale": {"domain": [-0.284, 13.07], "reverse": true, "zero": false, "nice": false}, "axis": null},
            "text": {"field": "t"},
            "color": {"field": "s", "type": "nominal", "scale": {"domain": ["0.1","0.3","1","3","10","30","100"], "range": ["#1f77b4","#ff7f0e","#2ca02c","#d62728","#9467bd","#8c564b","#e377c2"]}, "legend": null}
          }
        },
        {
          "transform": [{"filter": "datum.k == 'sub'"}],
          "mark": {"type": "text", "align": "left", "baseline": "middle", "fontSize": 12.5, "color": "#7f7f7f"},
          "encoding": {
            "x": {"datum": 0, "type": "quantitative", "scale": {"domain": [0.625, 1.625], "zero": false, "nice": false}, "axis": null},
            "y": {"field": "i", "type": "quantitative", "scale": {"domain": [-0.284, 13.07], "reverse": true, "zero": false, "nice": false}, "axis": null},
            "text": {"field": "t"}
          }
        }
      ]
    },
    {
      "width": 180, "height": 240,
      "title": {"text": "b) DSD2", "anchor": "start", "frame": "group", "offset": -17, "dx": 3, "fontSize": 13},
      "transform": [{"filter": "datum.d == 'DSD2' && datum.h == '0.05'"}],
      "mark": {"type": "point", "filled": true, "opacity": 0.7, "size": 85},
      "encoding": {
        "x": {"field": "m", "type": "nominal", "sort": null, "scale": {"type": "point", "domain": ["11Me","33Me","0.3Mj","1Mj","3Mj"], "padding": 1}, "axis": {"title": "Mₚ", "titleFontStyle": "italic", "titlePadding": 1, "labelPadding": 2, "labelFontSize": 12, "labelAngle": -45, "labelAlign": "right", "labelBaseline": "top", "tickSize": 5, "labelExpr": "datum.value == '11Me' ? '11 M⊕' : datum.value == '33Me' ? '33 M⊕' : datum.value == '0.3Mj' ? '0.3 Mⱼ' : datum.value == '1Mj' ? '1 Mⱼ' : '3 Mⱼ'"}},
        "y": {"field": "v", "type": "quantitative", "scale": {"type": "log", "domain": [0.0131, 1.745], "nice": false}, "axis": {"title": "Σd [g cm⁻²]", "titlePadding": 8, "labelOverlap": false, "labelPadding": 4, "values": [0.02,0.03,0.04,0.05,0.06,0.07,0.08,0.09,0.1,0.2,0.3,0.4,0.5,0.6,0.7,0.8,0.9,1], "labelExpr": "abs(log(datum.value)/LN10-round(log(datum.value)/LN10))<0.001 ? '10'+replace(replace(replace(replace(replace(replace(replace(''+round(log(datum.value)/LN10),'-','⁻'),'0','⁰'),'1','¹'),'2','²'),'3','³'),'4','⁴'),'5','⁵') : ''", "tickSize": {"condition": {"test": "abs(log(datum.value)/LN10-round(log(datum.value)/LN10))<0.001", "value": 5}, "value": 2.5}}},
        "color": {"field": "s", "type": "nominal", "scale": {"domain": ["0.1","0.3","1","3","10","30","100"], "range": ["#1f77b4","#ff7f0e","#2ca02c","#d62728","#9467bd","#8c564b","#e377c2"]}, "legend": null},
        "shape": {"field": "a", "type": "nominal", "scale": {"domain": ["1e-4","1e-3","1e-2"], "range": ["M0,-1L0.2245,-0.309L0.951,-0.309L0.3633,0.118L0.588,0.809L0,0.382L-0.588,0.809L-0.3633,0.118L-0.951,-0.309L-0.2245,-0.309Z", "M0,-1L1,1L-1,1Z", "M0,-1L0.951,-0.309L0.588,0.809L-0.588,0.809L-0.951,-0.309Z"]}, "legend": null}
      }
    },
    {
      "width": 180, "height": 240,
      "transform": [{"filter": "datum.d == 'DSD2' && datum.h == '0.07'"}],
      "mark": {"type": "point", "filled": true, "opacity": 0.7, "size": 85},
      "encoding": {
        "x": {"field": "m", "type": "nominal", "sort": null, "scale": {"type": "point", "domain": ["11Me","33Me","0.3Mj","1Mj","3Mj"], "padding": 1}, "axis": {"title": "Mₚ", "titleFontStyle": "italic", "titlePadding": 1, "labelPadding": 2, "labelFontSize": 12, "labelAngle": -45, "labelAlign": "right", "labelBaseline": "top", "tickSize": 5, "labelExpr": "datum.value == '11Me' ? '11 M⊕' : datum.value == '33Me' ? '33 M⊕' : datum.value == '0.3Mj' ? '0.3 Mⱼ' : datum.value == '1Mj' ? '1 Mⱼ' : '3 Mⱼ'"}},
        "y": {"field": "v", "type": "quantitative", "scale": {"type": "log", "domain": [0.0227, 2.66], "nice": false}, "axis": {"title": null, "labelOverlap": false, "labelPadding": 4, "values": [0.03,0.04,0.05,0.06,0.07,0.08,0.09,0.1,0.2,0.3,0.4,0.5,0.6,0.7,0.8,0.9,1,2], "labelExpr": "abs(log(datum.value)/LN10-round(log(datum.value)/LN10))<0.001 ? '10'+replace(replace(replace(replace(replace(replace(replace(''+round(log(datum.value)/LN10),'-','⁻'),'0','⁰'),'1','¹'),'2','²'),'3','³'),'4','⁴'),'5','⁵') : ''", "tickSize": {"condition": {"test": "abs(log(datum.value)/LN10-round(log(datum.value)/LN10))<0.001", "value": 5}, "value": 2.5}}},
        "color": {"field": "s", "type": "nominal", "scale": {"domain": ["0.1","0.3","1","3","10","30","100"], "range": ["#1f77b4","#ff7f0e","#2ca02c","#d62728","#9467bd","#8c564b","#e377c2"]}, "legend": null},
        "shape": {"field": "a", "type": "nominal", "scale": {"domain": ["1e-4","1e-3","1e-2"], "range": ["M0,-1L0.2245,-0.309L0.951,-0.309L0.3633,0.118L0.588,0.809L0,0.382L-0.588,0.809L-0.3633,0.118L-0.951,-0.309L-0.2245,-0.309Z", "M0,-1L1,1L-1,1Z", "M0,-1L0.951,-0.309L0.588,0.809L-0.588,0.809L-0.951,-0.309Z"]}, "legend": null}
      }
    },
    {
      "width": 180, "height": 240,
      "transform": [{"filter": "datum.d == 'DSD2' && datum.h == '0.1'"}],
      "mark": {"type": "point", "filled": true, "opacity": 0.7, "size": 85},
      "encoding": {
        "x": {"field": "m", "type": "nominal", "sort": null, "scale": {"type": "point", "domain": ["11Me","33Me","0.3Mj","1Mj","3Mj"], "padding": 1}, "axis": {"title": "Mₚ", "titleFontStyle": "italic", "titlePadding": 1, "labelPadding": 2, "labelFontSize": 12, "labelAngle": -45, "labelAlign": "right", "labelBaseline": "top", "tickSize": 5, "labelExpr": "datum.value == '11Me' ? '11 M⊕' : datum.value == '33Me' ? '33 M⊕' : datum.value == '0.3Mj' ? '0.3 Mⱼ' : datum.value == '1Mj' ? '1 Mⱼ' : '3 Mⱼ'"}},
        "y": {"field": "v", "type": "quantitative", "scale": {"type": "log", "domain": [0.0000102, 5.8], "nice": false}, "axis": {"title": null, "labelOverlap": false, "labelPadding": 4, "values": [0.00002,0.00003,0.00004,0.00005,0.00006,0.00007,0.00008,0.00009,0.0001,0.0002,0.0003,0.0004,0.0005,0.0006,0.0007,0.0008,0.0009,0.001,0.002,0.003,0.004,0.005,0.006,0.007,0.008,0.009,0.01,0.02,0.03,0.04,0.05,0.06,0.07,0.08,0.09,0.1,0.2,0.3,0.4,0.5,0.6,0.7,0.8,0.9,1,2,3,4,5], "labelExpr": "abs(log(datum.value)/LN10-round(log(datum.value)/LN10))<0.001 ? '10'+replace(replace(replace(replace(replace(replace(replace(''+round(log(datum.value)/LN10),'-','⁻'),'0','⁰'),'1','¹'),'2','²'),'3','³'),'4','⁴'),'5','⁵') : ''", "tickSize": {"condition": {"test": "abs(log(datum.value)/LN10-round(log(datum.value)/LN10))<0.001", "value": 5}, "value": 2.5}}},
        "color": {"field": "s", "type": "nominal", "scale": {"domain": ["0.1","0.3","1","3","10","30","100"], "range": ["#1f77b4","#ff7f0e","#2ca02c","#d62728","#9467bd","#8c564b","#e377c2"]}, "legend": null},
        "shape": {"field": "a", "type": "nominal", "scale": {"domain": ["1e-4","1e-3","1e-2"], "range": ["M0,-1L0.2245,-0.309L0.951,-0.309L0.3633,0.118L0.588,0.809L0,0.382L-0.588,0.809L-0.3633,0.118L-0.951,-0.309L-0.2245,-0.309Z", "M0,-1L1,1L-1,1Z", "M0,-1L0.951,-0.309L0.588,0.809L-0.588,0.809L-0.951,-0.309Z"]}, "legend": {"orient": "bottom-left", "title": null, "offset": 18, "padding": 0, "symbolSize": 80, "symbolFillColor": "black", "symbolStrokeColor": "black", "symbolOpacity": 1, "symbolStrokeWidth": 0, "labelFontSize": 13, "labelOffset": 16, "rowPadding": 6, "labelExpr": "datum.value == '1e-4' ? 'α = 10⁻⁴' : datum.value == '1e-3' ? 'α = 10⁻³' : 'α = 10⁻²'"}}
      }
    },
    {
      "width": 80, "height": 240,
      "data": {"name": "leg2"},
      "view": {"stroke": null},
      "layer": [
        {
          "transform": [{"filter": "datum.k == 'main'"}],
          "mark": {"type": "text", "align": "left", "baseline": "middle", "fontSize": 12.5},
          "encoding": {
            "x": {"datum": 0, "type": "quantitative", "scale": {"domain": [0.625, 1.625], "zero": false, "nice": false}, "axis": null},
            "y": {"field": "i", "type": "quantitative", "scale": {"domain": [-1.58, 11.98], "reverse": true, "zero": false, "nice": false}, "axis": null},
            "text": {"field": "t"},
            "color": {"field": "s", "type": "nominal", "scale": {"domain": ["0.1","0.3","1","3","10","30","100"], "range": ["#1f77b4","#ff7f0e","#2ca02c","#d62728","#9467bd","#8c564b","#e377c2"]}, "legend": null}
          }
        },
        {
          "transform": [{"filter": "datum.k == 'sub'"}],
          "mark": {"type": "text", "align": "left", "baseline": "middle", "fontSize": 12.5, "color": "#7f7f7f"},
          "encoding": {
            "x": {"datum": 0, "type": "quantitative", "scale": {"domain": [0.625, 1.625], "zero": false, "nice": false}, "axis": null},
            "y": {"field": "i", "type": "quantitative", "scale": {"domain": [-1.58, 11.98], "reverse": true, "zero": false, "nice": false}, "axis": null},
            "text": {"field": "t"}
          }
        },
        {
          "transform": [{"filter": "datum.k == 'head'"}],
          "mark": {"type": "text", "align": "left", "baseline": "middle", "fontSize": 12.5, "color": "black"},
          "encoding": {
            "x": {"datum": 0, "type": "quantitative", "scale": {"domain": [0.625, 1.625], "zero": false, "nice": false}, "axis": null},
            "y": {"field": "i", "type": "quantitative", "scale": {"domain": [-1.58, 11.98], "reverse": true, "zero": false, "nice": false}, "axis": null},
            "text": {"field": "t"}
          }
        }
      ]
    }
  ]
}
